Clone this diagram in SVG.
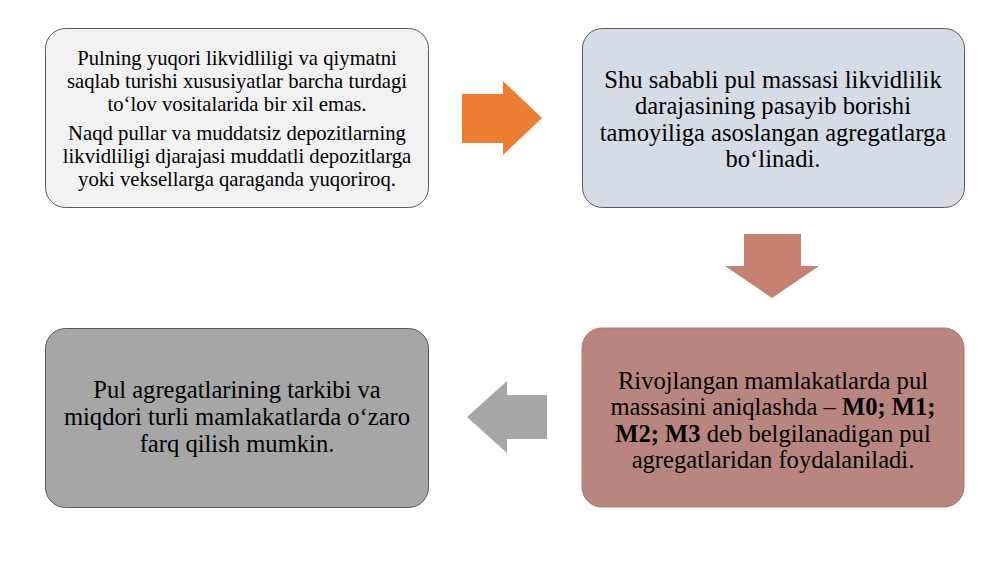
<svg xmlns="http://www.w3.org/2000/svg" width="1000" height="562" viewBox="0 0 1000 562">
<style>
.box{stroke:#595959;stroke-width:1}
text{font-family:'Liberation Serif','Times New Roman',serif;fill:#000;text-anchor:middle}
.s{font-size:20.7px}
.m{font-size:24.6px}
</style>
<rect width="1000" height="562" fill="#ffffff"/>
<g id="node1">
<rect class="box" x="45.5" y="28.5" width="383" height="179" rx="20" fill="#f2f2f2"/>
<text class="s" x="237" y="65">Pulning yuqori likvidliligi va qiymatni</text>
<text class="s" x="237" y="88">saqlab turishi xususiyatlar barcha turdagi</text>
<text class="s" x="237" y="111">to‘lov vositalarida bir xil emas.</text>
<text class="s" x="237" y="140">Naqd pullar va muddatsiz depozitlarning</text>
<text class="s" x="237" y="163">likvidliligi djarajasi muddatli depozitlarga</text>
<text class="s" x="237" y="186">yoki veksellarga qaraganda yuqoriroq.</text>
</g>
<g id="node2">
<rect class="box" x="582.5" y="28.5" width="382" height="179" rx="20" fill="#d6dce5"/>
<text class="m" x="773" y="88">Shu sababli pul massasi likvidlilik</text>
<text class="m" x="773" y="114">darajasining pasayib borishi</text>
<text class="m" x="773" y="141">tamoyiliga asoslangan agregatlarga</text>
<text class="m" x="773" y="167">bo‘linadi.</text>
</g>
<g id="node3">
<rect x="582" y="328" width="382" height="179" rx="20" fill="#b9867f" stroke="#ad7870" stroke-width="1"/>
<text class="m" x="773" y="389">Rivojlangan mamlakatlarda pul</text>
<text class="m" x="773" y="415">massasini aniqlashda – <tspan font-weight="bold">M0; M1;</tspan></text>
<text class="m" x="773" y="442"><tspan font-weight="bold">M2; M3</tspan> deb belgilanadigan pul</text>
<text class="m" x="773" y="468">agregatlaridan foydalaniladi.</text>
</g>
<g id="node4">
<rect class="box" x="45.5" y="328.5" width="383" height="179" rx="20" fill="#a6a6a6"/>
<text class="m" x="237" y="398">Pul agregatlarining tarkibi va</text>
<text class="m" x="237" y="425">miqdori turli mamlakatlarda o‘zaro</text>
<text class="m" x="237" y="452">farq qilish mumkin.</text>
</g>
<g id="connectors">
<polygon points="462,94 503,94 503,81 542,118 503,155 503,143 462,143" fill="#ed7d31"/>
<polygon points="744,234 801,234 801,266 819,266 772,298 725,266 744,266" fill="#c5806f"/>
<polygon points="547,395 507,395 507,381 467,417 507,453 507,439 547,439" fill="#a6a6a6"/>
</g>
</svg>
